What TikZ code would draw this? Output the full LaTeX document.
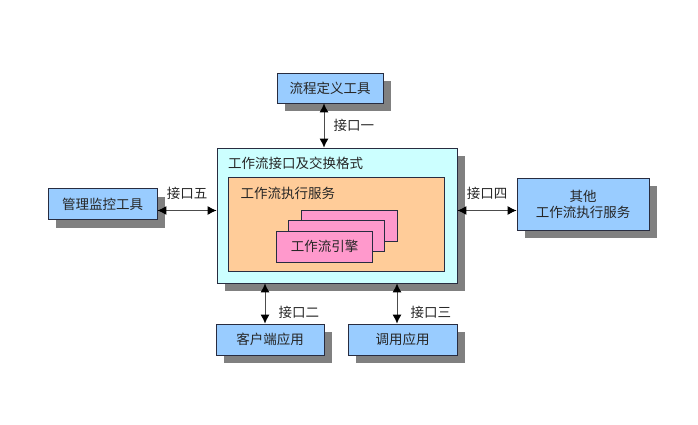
\documentclass[tikz,border=0pt]{standalone}
\usepackage{fontspec}
\setmainfont{Noto Sans CJK SC}
\usetikzlibrary{shadows,arrows.meta,positioning}
\definecolor{toolblue}{RGB}{153,204,255}
\definecolor{ifcyan}{RGB}{204,255,255}
\definecolor{svcorange}{RGB}{255,204,153}
\definecolor{enginepink}{RGB}{255,153,204}
\definecolor{edgedark}{RGB}{40,44,64}
\begin{document}
\begin{tikzpicture}[x=1pt, y=1pt, >={Latex[length=9pt,width=9pt,color=black]}, font=\fontsize{13.5}{16}\selectfont, text=black!85]

% Styles
\tikzstyle{shade} = [drop shadow={shadow xshift=8pt, shadow yshift=-8pt, fill=black!50, opacity=1}]
\tikzstyle{tool} = [draw=edgedark, thick, rectangle, fill=toolblue, align=center, inner sep=0pt, shade]
\tikzstyle{iface} = [draw=edgedark, thick, rectangle, fill=ifcyan, inner sep=0pt, shade]
\tikzstyle{service} = [draw=edgedark, thick, rectangle, fill=svcorange, inner sep=0pt]
\tikzstyle{engine} = [draw=edgedark, thick, rectangle, fill=enginepink, inner sep=0pt, minimum width=96pt, minimum height=31pt]
\tikzstyle{link} = [<->, draw=black!70, line width=1pt]
\tikzstyle{portname} = [inner sep=2pt]

\useasboundingbox (0,0) rectangle (698,-425);

% Nodes - centre
\node[iface, minimum width=240pt, minimum height=135pt] (main) at (337,-215.5) {};
\node[anchor=west] (maintitle) at ([xshift=8pt, yshift=-16pt]main.north west) {工作流接口及交换格式};
\node[service, minimum width=216pt, minimum height=94pt] (svc) at (336.5,-224.5) {};
\node[anchor=west] (svctitle) at ([xshift=9pt, yshift=-16pt]svc.north west) {工作流执行服务};
\node[engine] (engineback) at (349,-226) {};
\node[engine] (enginemid) at (336,-236) {};
\node[engine] (engine) at (324.5,-246.5) {工作流引擎};

% Nodes - outside
\node[tool, minimum width=106pt, minimum height=30pt] (define) at (330,-88) {流程定义工具};
\node[tool, minimum width=109pt, minimum height=31pt] (monitor) at (102.5,-204) {管理监控工具};
\node[tool, minimum width=132pt, minimum height=52pt] (other) at (583,-204) {其他\\工作流执行服务};
\node[tool, minimum width=108pt, minimum height=31pt] (client) at (270,-339.5) {客户端应用};
\node[tool, minimum width=109pt, minimum height=31pt] (invoke) at (402.5,-339.5) {调用应用};

% Connections
\draw[link] ([xshift=-6pt]define.south) -- node[portname, right=7pt] {接口一} ([xshift=-6pt]define.south |- main.north);
\draw[link] ([yshift=-6.5pt]monitor.east) -- node[portname, above=8pt] {接口五} ([yshift=-6.5pt]monitor.east -| main.west);
\draw[link] ([yshift=-6.5pt]other.west -| main.east) -- node[portname, above=8pt] {接口四} ([yshift=-6.5pt]other.west);
\draw[link] ([xshift=-5pt]client.north |- main.south) -- node[portname, right=11pt, pos=0.72] {接口二} ([xshift=-5pt]client.north);
\draw[link] ([xshift=-5.5pt]invoke.north |- main.south) -- node[portname, right=11pt, pos=0.72] {接口三} ([xshift=-5.5pt]invoke.north);

\end{tikzpicture}
\end{document}
